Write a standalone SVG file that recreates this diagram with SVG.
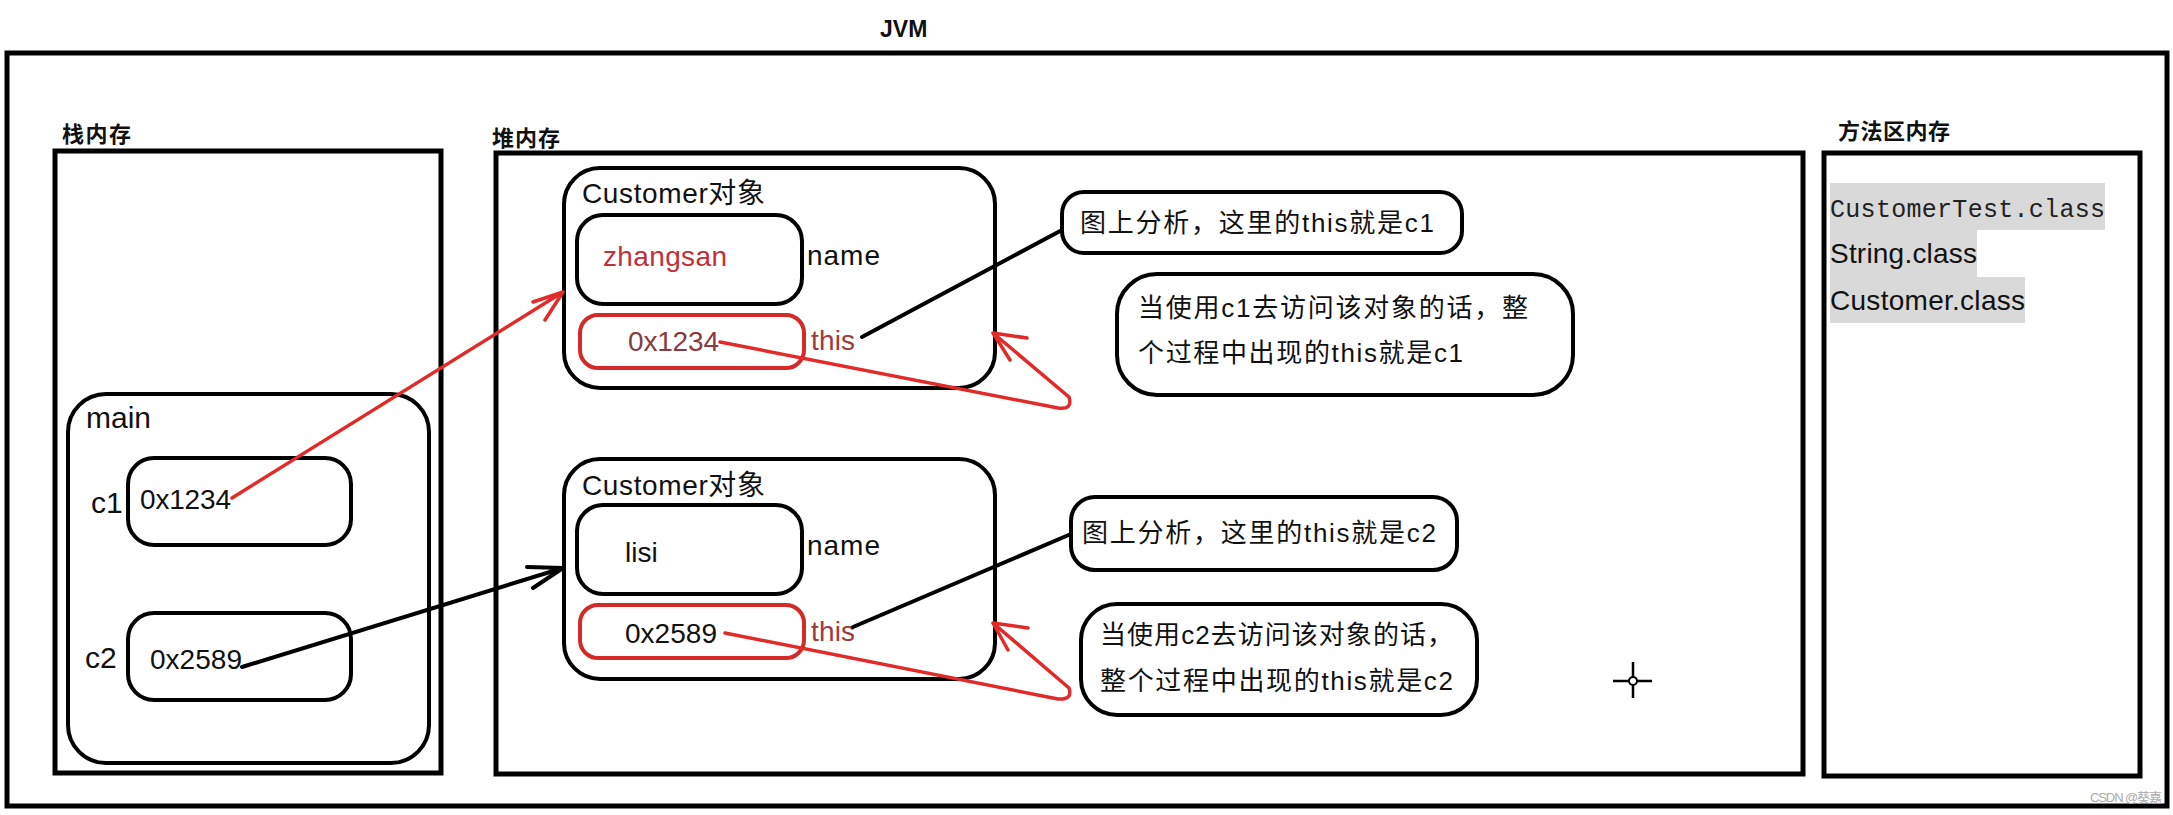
<svg xmlns="http://www.w3.org/2000/svg" width="2173" height="815" viewBox="0 0 2173 815">
<style>
.frame{fill:none;stroke:#000;stroke-width:5}
.box{fill:none;stroke:#000;stroke-width:4}
.rbox{fill:none;stroke:#d42a2a;stroke-width:4}
.t{font-family:"Liberation Sans","Noto Sans CJK SC",sans-serif;font-size:28px;fill:#111}
.h{font-family:"Liberation Sans","Noto Sans CJK SC",sans-serif;font-size:22px;font-weight:bold;fill:#111}
.c{font-family:"Liberation Sans","Noto Sans CJK SC",sans-serif;font-size:26px;fill:#111}
.red{fill:#c0303a}
.dred{fill:#8a3a42}
.mono{font-family:"Liberation Mono",monospace;font-size:25px;fill:#222}
.hl{fill:#d9d9d9}
.ln{fill:none;stroke:#000;stroke-width:4;stroke-linecap:round;stroke-linejoin:round}
.rln{fill:none;stroke:#e22a2a;stroke-width:3.5;stroke-linecap:round;stroke-linejoin:round}
</style>
<rect width="2173" height="815" fill="#fff"/>

<g id="jvm">
<rect class="frame" x="7" y="53" width="2160" height="753"/>
<text x="880" y="37" font-family="Liberation Sans, sans-serif" font-size="23" font-weight="bold" fill="#111">JVM</text>
</g>

<g id="stack">
<rect class="frame" x="55" y="151" width="386" height="622"/>
<text class="h" x="62" y="142" textLength="69">栈内存</text>
</g>

<g id="main">
<rect class="box" x="68" y="394" width="361" height="369" rx="38"/>
<text class="t" x="86" y="428" style="font-size:30px">main</text>
</g>

<g id="c1">
<rect class="box" x="128" y="458" width="223" height="87" rx="26"/>
<text class="t" x="91" y="513" style="font-size:30px">c1</text>
<text class="t" x="140" y="509" textLength="91">0x1234</text>
</g>

<g id="c2">
<rect class="box" x="128" y="613" width="223" height="87" rx="26"/>
<text class="t" x="85" y="668" style="font-size:30px">c2</text>
<text class="t" x="150" y="669" textLength="92">0x2589</text>
</g>

<g id="heap">
<rect class="frame" x="496" y="153" width="1307" height="621"/>
<text class="h" x="492" y="146" textLength="68">堆内存</text>
</g>

<g id="customer1">
<rect class="box" x="564" y="168" width="431" height="220" rx="36"/>
<text class="t" x="582" y="203" textLength="183">Customer对象</text>
<rect class="box" x="577" y="215" width="225" height="89" rx="26"/>
<text class="t red" x="603" y="266" textLength="124">zhangsan</text>
<text class="t" x="807" y="265" textLength="73">name</text>
<rect class="rbox" x="580" y="315" width="224" height="53" rx="18"/>
<text class="t dred" x="628" y="351" textLength="91">0x1234</text>
<text class="t" x="811" y="350" textLength="44" fill="#a33838" style="fill:#a33838">this</text>
</g>

<g id="customer2">
<rect class="box" x="564" y="459" width="431" height="220" rx="36"/>
<text class="t" x="582" y="495" textLength="183">Customer对象</text>
<rect class="box" x="577" y="505" width="225" height="89" rx="26"/>
<text class="t" x="625" y="562">lisi</text>
<text class="t" x="807" y="555" textLength="73">name</text>
<rect class="rbox" x="580" y="605" width="224" height="53" rx="18"/>
<text class="t" x="625" y="643" textLength="92">0x2589</text>
<text class="t" x="811" y="641" textLength="44" style="fill:#a33838">this</text>
</g>

<g id="note1">
<rect class="box" x="1062" y="192" width="400" height="61" rx="22"/>
<text class="c" x="1080" y="232" textLength="354">图上分析，这里的this就是c1</text>
</g>

<g id="note2">
<rect class="box" x="1117" y="274" width="456" height="121" rx="40"/>
<text class="c" x="1138" y="317" textLength="390">当使用c1去访问该对象的话，整</text>
<text class="c" x="1138" y="362" textLength="325">个过程中出现的this就是c1</text>
</g>

<g id="note3">
<rect class="box" x="1071" y="497" width="386" height="73" rx="24"/>
<text class="c" x="1082" y="542" textLength="354">图上分析，这里的this就是c2</text>
</g>

<g id="note4">
<rect class="box" x="1081" y="604" width="396" height="111" rx="36"/>
<text class="c" x="1100" y="644" textLength="353">当使用c2去访问该对象的话，</text>
<text class="c" x="1100" y="690" textLength="353">整个过程中出现的this就是c2</text>
</g>

<g id="method">
<rect class="frame" x="1824" y="153" width="316" height="623"/>
<text class="h" x="1838" y="139" textLength="112">方法区内存</text>
<rect class="hl" x="1830" y="183" width="275" height="47"/>
<rect class="hl" x="1830" y="230" width="147" height="47"/>
<rect class="hl" x="1830" y="277" width="195" height="46"/>
<text class="mono" x="1830" y="217" textLength="275">CustomerTest.class</text>
<text class="t" x="1830" y="263" textLength="147">String.class</text>
<text class="t" x="1830" y="310" textLength="195">Customer.class</text>
</g>

<g id="connectors">
<path class="rln" d="M232 498 L563 292 M533 302 L563 292 L545 320"/>
<path class="ln" d="M242 667 L563 568 M527 567 L563 568 L533 588"/>
<path class="ln" d="M862 337 L1062 230"/>
<path class="ln" d="M853 627 L1071 534"/>
<path class="rln" d="M720 342 L1058 408 Q1073 410 1069 397 L993 333 M1027 338 L993 333 L1010 360"/>
<path class="rln" d="M725 633 L1058 699 Q1073 700 1069 688 L993 623 M1028 628 L993 623 L1008 650"/>
</g>

<g id="cursor">
<path d="M1613 681 H1629 M1637 681 H1652 M1633 662 V677 M1633 685 V698" stroke="#000" stroke-width="2.5" fill="none"/>
<circle cx="1633" cy="681" r="4" fill="#fff" stroke="#000" stroke-width="2"/>
</g>

<text x="2090" y="802" font-family="Liberation Sans, Noto Sans CJK SC, sans-serif" font-size="13" fill="#aaa" textLength="72">CSDN @葵嘉</text>
</svg>
